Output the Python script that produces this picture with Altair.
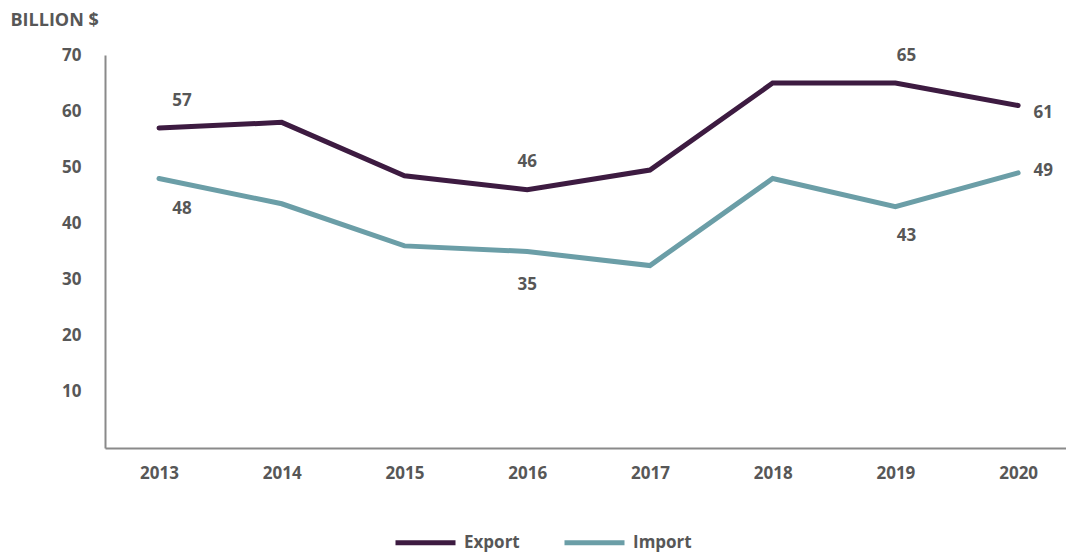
import altair as alt
import pandas as pd

years = [2013, 2014, 2015, 2016, 2017, 2018, 2019, 2020]
export_vals = [57, 58, 48.5, 46, 49.5, 65, 65, 61]
import_vals = [48, 43.5, 36, 35, 32.5, 48, 43, 49]
series_names = ["Export", "Import"]
series_colors = ["#3d1b41", "#6b9ea7"]
y_ticks = [10, 20, 30, 40, 50, 60, 70]
y_title = "BILLION $"

# labelled points: (series, year)
labelled = [("Export", 2013), ("Export", 2016), ("Export", 2019), ("Export", 2020),
            ("Import", 2013), ("Import", 2016), ("Import", 2019), ("Import", 2020)]
# label offsets (style only)
offsets = {
    ("Export", 2013): (23, -27), ("Export", 2016): (0, -28),
    ("Export", 2019): (11, -27), ("Export", 2020): (25, 7),
    ("Import", 2013): (23, 30), ("Import", 2016): (0, 33),
    ("Import", 2019): (11, 29), ("Import", 2020): (25, -2),
}

df = pd.DataFrame({
    "year": years * 2,
    "value": export_vals + import_vals,
    "series": ["Export"] * len(years) + ["Import"] * len(years),
})

FONT = "Open Sans"
TXT = "#575757"
FS = 17

x = alt.X("year:Q",
          scale=alt.Scale(domain=[2012.56, 2020.39], nice=False, zero=False),
          axis=alt.Axis(values=years, format="d", title=None, ticks=False, grid=False,
                        labelPadding=17, labelFont=FONT, labelFontWeight="bold",
                        labelFontSize=FS, labelColor=TXT, domainColor="#8a8a8a",
                        domainWidth=2, labelFlush=False))
y = alt.Y("value:Q",
          scale=alt.Scale(domain=[0, 70], nice=False),
          axis=alt.Axis(values=y_ticks, title=y_title, titleAngle=0, titleAlign="left",
                        titleBaseline="middle", titleX=-95, titleY=-35,
                        titleFont=FONT, titleFontWeight="bold", titleFontSize=18,
                        titleColor=TXT, ticks=False, grid=False, labelPadding=24,
                        labelFont=FONT, labelFontWeight="bold", labelFontSize=FS,
                        labelColor=TXT, domainColor="#8a8a8a", domainWidth=2))

color = alt.Color("series:N",
                  scale=alt.Scale(domain=series_names, range=series_colors),
                  legend=alt.Legend(orient="none", direction="horizontal",
                                    legendX=288, legendY=455, title=None,
                                    symbolType="stroke", symbolSize=3600,
                                    symbolStrokeWidth=5, labelOffset=6,
                                    columnPadding=34, labelFont=FONT,
                                    labelFontWeight="bold", labelFontSize=FS,
                                    labelColor=TXT, padding=0))

base = alt.Chart(df)
lines = base.mark_line(strokeWidth=5, strokeCap="round", strokeJoin="miter").encode(
    x=x, y=y, color=color)

layers = [lines]
for (s, yr) in labelled:
    dx, dy = offsets[(s, yr)]
    t = base.transform_filter(
        (alt.datum.series == s) & (alt.datum.year == yr)
    ).mark_text(font=FONT, fontWeight="bold", fontSize=FS, color=TXT,
                dx=dx, dy=dy, baseline="middle", align="center").encode(
        x=alt.X("year:Q"), y=alt.Y("value:Q"),
        text=alt.Text("value:Q", format=".0f"))
    layers.append(t)

chart = alt.layer(*layers).properties(
    width=961, height=393,
    autosize=alt.AutoSizeParams(type="none"),
    padding={"left": 105, "top": 55, "right": 0, "bottom": 106},
    background="white",
).configure_view(stroke=None)

chart.save("out.html", embed_options={"renderer": "svg", "actions": False})
